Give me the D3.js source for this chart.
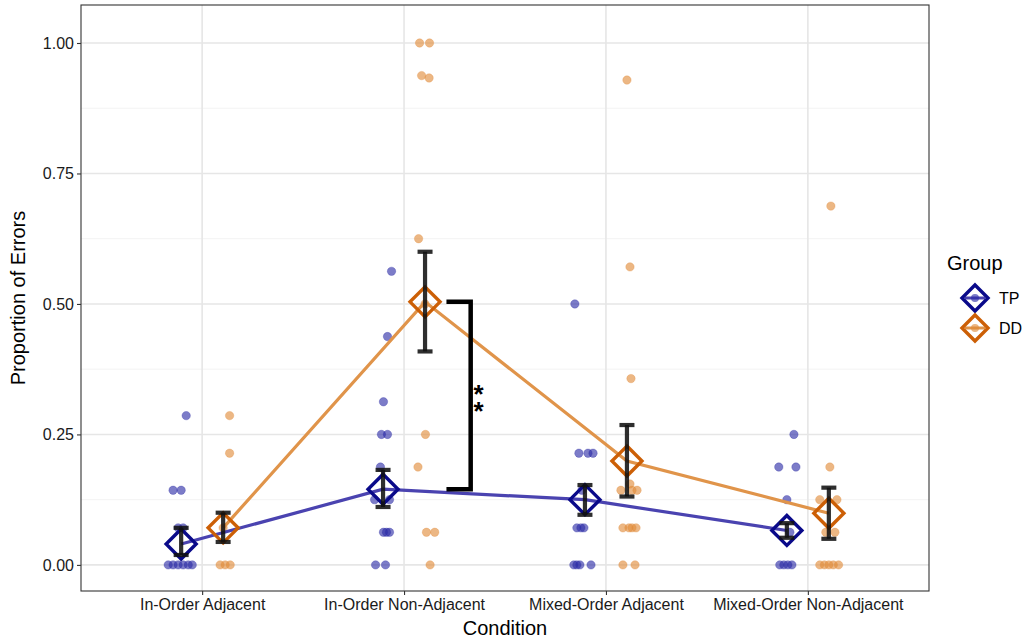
<!DOCTYPE html>
<html>
<head>
<meta charset="utf-8">
<script src="https://cdn.jsdelivr.net/npm/d3@7"></script>
<style>
body { margin: 0; background: #fff; }
svg { font-family: "Liberation Sans", Arial, sans-serif; }
</style>
</head>
<body>
<svg id="chart" width="1025" height="639"></svg>
<script>
// ---------- data ----------
const conditions = ["In-Order Adjacent", "In-Order Non-Adjacent", "Mixed-Order Adjacent", "Mixed-Order Non-Adjacent"];
const groups = ["TP", "DD"];
const yTicks = [0, 0.25, 0.5, 0.75, 1.0];

const tpMean = [0.040, 0.145, 0.125, 0.066];
const tpLow  = [0.019, 0.111, 0.096, 0.052];
const tpHigh = [0.071, 0.182, 0.153, 0.080];

const ddMean = [0.071, 0.504, 0.199, 0.099];
const ddLow  = [0.044, 0.409, 0.131, 0.050];
const ddHigh = [0.100, 0.600, 0.268, 0.148];

// individual participant values per condition (TP)
const tpPoints = [
  [0.286, 0.143, 0.143, 0.071, 0.071, 0, 0, 0, 0, 0, 0],
  [0.5625, 0.4375, 0.3125, 0.25, 0.25, 0.1875, 0.125, 0.125, 0.0625, 0.0625, 0.0625, 0, 0],
  [0.5, 0.214, 0.214, 0.214, 0.143, 0.071, 0.071, 0.071, 0, 0, 0, 0],
  [0.25, 0.1875, 0.1875, 0.125, 0.0625, 0, 0, 0, 0]
];
// horizontal jitter (fraction of category step)
const tpJitter = [
  [0.025, -0.04, 0.0, -0.015, 0.01, -0.064, -0.04, -0.015, 0.01, 0.035, 0.055],
  [0.042, 0.022, 0.002, -0.008, 0.022, -0.013, -0.042, 0.032, 0.002, 0.017, 0.032, -0.037, 0.012],
  [-0.05, -0.03, 0.015, 0.04, -0.015, -0.04, -0.02, -0.005, -0.055, -0.04, -0.025, 0.03],
  [0.035, -0.04, 0.045, 0.0, 0.015, -0.035, -0.015, 0.005, 0.025]
];

const ddPoints = [
  [0.286, 0.214, 0.071, 0, 0, 0],
  [1.0, 1.0, 0.9375, 0.933, 0.625, 0.5, 0.25, 0.1875, 0.0625, 0.0625, 0],
  [0.929, 0.571, 0.357, 0.155, 0.143, 0.143, 0.143, 0.071, 0.071, 0.071, 0.071, 0, 0],
  [0.6875, 0.1875, 0.125, 0.125, 0.0625, 0.0625, 0, 0, 0, 0, 0]
];
const ddJitter = [
  [0.032, 0.032, 0.0, -0.015, 0.01, 0.035],
  [-0.027, 0.022, -0.017, 0.02, -0.032, 0.0, 0.002, -0.035, 0.007, 0.048, 0.025],
  [0.0, 0.015, 0.02, 0.015, -0.03, 0.025, 0.05, -0.02, 0.01, 0.025, 0.045, -0.02, 0.04],
  [0.01, 0.005, -0.045, 0.04, -0.015, 0.03, -0.045, -0.022, 0.0, 0.022, 0.048]
];

const sigPair = { condition: "In-Order Non-Adjacent", label: "**" };

// ---------- layout ----------
const svg = d3.select("#chart");
const panel = { left: 81, right: 929, top: 5, bottom: 591 };
const colors = {
  TP: { line: "#4a43b0", point: "#2b2ba6", shape: "#0a0a8a" },
  DD: { line: "#e0944a", point: "#e08a38", shape: "#cc5f06" }
};

const x = d3.scalePoint().domain(conditions).range([panel.left, panel.right]).padding(0.6);
const step = x.step();
const y = d3.scaleLinear().domain([-0.05, 1.0728]).range([panel.bottom, panel.top]);
const dodge = { TP: -0.104, DD: 0.104 };
const gx = (c, g, j) => x(c) + (dodge[g] + (j || 0)) * step;

// panel background + grid
svg.append("rect").attr("x", panel.left).attr("y", panel.top)
  .attr("width", panel.right - panel.left).attr("height", panel.bottom - panel.top)
  .attr("fill", "#fff");

const minor = d3.range(0.125, 1.0, 0.25);
svg.append("g").selectAll("line").data(minor).join("line")
  .attr("x1", panel.left).attr("x2", panel.right)
  .attr("y1", d => y(d)).attr("y2", d => y(d))
  .attr("stroke", "#f3f3f3").attr("stroke-width", 1);
svg.append("g").selectAll("line").data(yTicks).join("line")
  .attr("x1", panel.left).attr("x2", panel.right)
  .attr("y1", d => y(d)).attr("y2", d => y(d))
  .attr("stroke", "#e6e6e6").attr("stroke-width", 1.6);
svg.append("g").selectAll("line").data(conditions).join("line")
  .attr("x1", d => x(d)).attr("x2", d => x(d))
  .attr("y1", panel.top).attr("y2", panel.bottom)
  .attr("stroke", "#e6e6e6").attr("stroke-width", 1.6);

// jittered points
function drawPoints(g, pts, jit) {
  const data = [];
  pts.forEach((arr, i) => arr.forEach((v, k) => data.push({ c: conditions[i], v, j: jit[i][k] })));
  svg.append("g").selectAll("circle").data(data).join("circle")
    .attr("cx", d => gx(d.c, g, d.j))
    .attr("cy", d => y(d.v))
    .attr("r", 4.2)
    .attr("fill", colors[g].point)
    .attr("fill-opacity", 0.62)
    .attr("stroke", colors[g].point)
    .attr("stroke-opacity", 0.5)
    .attr("stroke-width", 0.6);
}
drawPoints("TP", tpPoints, tpJitter);
drawPoints("DD", ddPoints, ddJitter);

// mean lines
const line = g => d3.line().x((d, i) => gx(conditions[i], g)).y(d => y(d));
svg.append("path").datum(tpMean).attr("d", line("TP"))
  .attr("fill", "none").attr("stroke", colors.TP.line).attr("stroke-width", 3.2);
svg.append("path").datum(ddMean).attr("d", line("DD"))
  .attr("fill", "none").attr("stroke", colors.DD.line).attr("stroke-width", 3.2);

// diamonds
const diamond = (cx, cy, r) => `M${cx},${cy - r}L${cx + r},${cy}L${cx},${cy + r}L${cx - r},${cy}Z`;
function drawDiamonds(g, means) {
  svg.append("g").selectAll("path").data(means).join("path")
    .attr("d", (d, i) => diamond(gx(conditions[i], g), y(d), 15))
    .attr("fill", "none")
    .attr("stroke", colors[g].shape)
    .attr("stroke-width", 3.4)
    .attr("stroke-linejoin", "miter");
}
drawDiamonds("TP", tpMean);
drawDiamonds("DD", ddMean);

// error bars
function drawErr(g, lo, hi) {
  const eg = svg.append("g").attr("stroke", "#111").attr("stroke-opacity", 0.88).attr("stroke-width", 4.2);
  lo.forEach((l, i) => {
    const cx = gx(conditions[i], g);
    const h = hi[i];
    eg.append("line").attr("x1", cx).attr("x2", cx).attr("y1", y(l)).attr("y2", y(h));
    eg.append("line").attr("x1", cx - 7.5).attr("x2", cx + 7.5).attr("y1", y(l)).attr("y2", y(l));
    eg.append("line").attr("x1", cx - 7.5).attr("x2", cx + 7.5).attr("y1", y(h)).attr("y2", y(h));
  });
}
drawErr("TP", tpLow, tpHigh);
drawErr("DD", ddLow, ddHigh);

// significance bracket
{
  const ci = conditions.indexOf(sigPair.condition);
  const xs = x(sigPair.condition);
  const x0 = xs + 0.21 * step, x1 = xs + 0.33 * step;
  const yTop = y(ddMean[ci]), yBot = y(tpMean[ci]);
  svg.append("path")
    .attr("d", `M${x0},${yTop}H${x1}V${yBot}H${x0}`)
    .attr("fill", "none").attr("stroke", "#000").attr("stroke-width", 4.5);
  const mid = (yTop + yBot) / 2;
  svg.append("text")
    .attr("x", x1 + 8).attr("y", mid)
    .attr("text-anchor", "middle")
    .style("writing-mode", "vertical-rl")
    .style("text-orientation", "upright")
    .style("letter-spacing", "-13px")
    .attr("font-size", 26).attr("font-weight", "bold").attr("fill", "#000")
    .text(sigPair.label);
}

// panel border
svg.append("rect").attr("x", panel.left).attr("y", panel.top)
  .attr("width", panel.right - panel.left).attr("height", panel.bottom - panel.top)
  .attr("fill", "none").attr("stroke", "#333").attr("stroke-width", 1.1);

// axes
const yAxis = d3.axisLeft(y).tickValues(yTicks).tickFormat(d3.format(".2f")).tickSize(4).tickPadding(3);
const ya = svg.append("g").attr("transform", `translate(${panel.left},0)`).call(yAxis);
ya.select(".domain").remove();
ya.selectAll("line").attr("stroke", "#333").attr("stroke-width", 1.1);
ya.selectAll("text").attr("font-size", 16).attr("fill", "#1a1a1a").attr("font-family", "Liberation Sans, Arial, sans-serif");

const xAxis = d3.axisBottom(x).tickSize(4).tickPadding(4);
const xa = svg.append("g").attr("transform", `translate(0,${panel.bottom})`).call(xAxis);
xa.select(".domain").remove();
xa.selectAll("line").attr("stroke", "#333").attr("stroke-width", 1.1);
xa.selectAll("text").attr("font-size", 16).attr("fill", "#1a1a1a").attr("font-family", "Liberation Sans, Arial, sans-serif");

svg.append("text").attr("x", (panel.left + panel.right) / 2).attr("y", 635)
  .attr("text-anchor", "middle").attr("font-size", 20).attr("fill", "#000").text("Condition");
svg.append("text").attr("transform", `translate(25,${(panel.top + panel.bottom) / 2}) rotate(-90)`)
  .attr("text-anchor", "middle").attr("font-size", 20).attr("fill", "#000").text("Proportion of Errors");

// legend
const lg = svg.append("g");
lg.append("text").attr("x", 947).attr("y", 270).attr("font-size", 20).attr("fill", "#000").text("Group");
groups.forEach((g, i) => {
  const cy = 298 + i * 30, cx = 975;
  lg.append("line").attr("x1", cx - 10).attr("x2", cx + 10).attr("y1", cy).attr("y2", cy)
    .attr("stroke", colors[g].line).attr("stroke-width", 3);
  lg.append("circle").attr("cx", cx).attr("cy", cy).attr("r", 4)
    .attr("fill", colors[g].point).attr("fill-opacity", 0.62);
  lg.append("path").attr("d", diamond(cx, cy, 13)).attr("fill", "none")
    .attr("stroke", colors[g].shape).attr("stroke-width", 3.4);
  lg.append("text").attr("x", 999).attr("y", cy + 5.5).attr("font-size", 16).attr("fill", "#000").text(g);
});
</script>
</body>
</html>
